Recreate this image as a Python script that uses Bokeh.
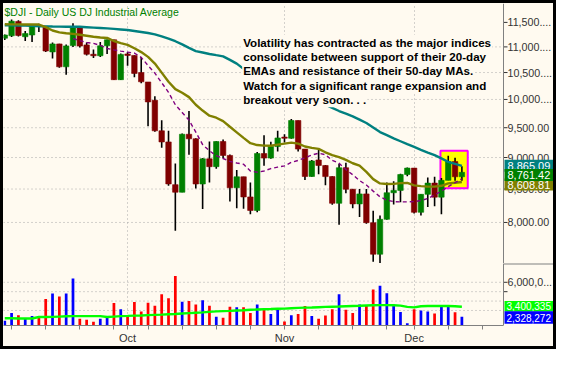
import math
from bokeh.plotting import figure
from bokeh.models import Range1d, FixedTicker, Label, ColumnDataSource, Span
from bokeh.core.properties import value
from bokeh.layouts import column
from bokeh.embed import file_html
from bokeh.resources import INLINE

# ---------------- data (trading days, Sep 5 2008 .. Dec 10 2008) ----------------
dates = ["09-05", "09-08", "09-09", "09-10", "09-11", "09-12", "09-15", "09-16", "09-17", "09-18",
         "09-19", "09-22", "09-23", "09-24", "09-25", "09-26", "09-29", "09-30", "10-01", "10-02",
         "10-03", "10-06", "10-07", "10-08", "10-09", "10-10", "10-13", "10-14", "10-15", "10-16",
         "10-17", "10-20", "10-21", "10-22", "10-23", "10-24", "10-27", "10-28", "10-29", "10-30",
         "10-31", "11-03", "11-04", "11-05", "11-06", "11-07", "11-10", "11-11", "11-12", "11-13",
         "11-14", "11-17", "11-18", "11-19", "11-20", "11-21", "11-24", "11-25", "11-26", "11-28",
         "12-01", "12-02", "12-03", "12-04", "12-05", "12-08", "12-09", "12-10"]

opens = [11175, 11224, 11520, 11205, 11240, 11434, 11420, 10900, 11059, 10610,
         11027, 11388, 11040, 10854, 10825, 11022, 11143, 10365, 10860, 10831,
         10500, 10322, 9985, 9447, 9258, 8568, 8451, 9388, 9311, 8578,
         8979, 8852, 9265, 9034, 8519, 8691, 8379, 8176, 9065, 8991,
         9181, 9340, 9320, 9625, 9139, 8696, 8960, 8871, 8694, 8283,
         8835, 8497, 8274, 8425, 7997, 7552, 8046, 8443, 8479, 8727,
         8829, 8149, 8419, 8592, 8376, 8635, 8934, 8691]
highs = [11250, 11560, 11545, 11320, 11460, 11470, 11425, 11090, 11065, 11050,
         11480, 11390, 11090, 10950, 11100, 11150, 11145, 10870, 10900, 10835,
         10800, 10322, 10060, 9630, 9448, 8901, 9400, 9794, 9320, 8994,
         9265, 9270, 9300, 9050, 8800, 8691, 8600, 9090, 9370, 9260,
         9450, 9390, 9653, 9625, 9140, 8960, 9130, 8880, 8700, 8900,
         8917, 8500, 8500, 8500, 8170, 8100, 8600, 8620, 8740, 8840,
         8829, 8420, 8680, 8690, 8670, 9030, 8995, 8857]
lows = [11140, 11200, 11210, 11120, 11100, 11300, 10900, 10770, 10590, 10460,
        11000, 10990, 10830, 10780, 10800, 10860, 10360, 10360, 10630, 10410,
        10300, 9525, 9430, 9160, 8550, 7882, 8450, 9045, 8510, 8197,
        8603, 8820, 8990, 8310, 8210, 8200, 8120, 8150, 8865, 8980,
        9100, 9250, 9310, 9100, 8640, 8690, 8730, 8560, 8260, 7965,
        8435, 8210, 8080, 7980, 7450, 7430, 8040, 8265, 8300, 8700,
        8130, 8100, 8227, 8240, 8120, 8635, 8630, 8629]
closes = [11240, 11525, 11231, 11269, 11434, 11422, 10918, 11059, 10610, 11020,
          11388, 11016, 10854, 10825, 11022, 11143, 10365, 10851, 10831, 10483,
          10325, 9955, 9447, 9258, 8579, 8451, 9388, 9311, 8578, 8979,
          8852, 9265, 9034, 8519, 8691, 8379, 8176, 9065, 8991, 9181,
          9325, 9320, 9625, 9139, 8696, 8944, 8871, 8694, 8283, 8835,
          8497, 8274, 8425, 7997, 7552, 8046, 8443, 8479, 8727, 8829,
          8149, 8419, 8592, 8376, 8635, 8934, 8691, 8761.42]

# volume, millions of shares
volumes = [1.9, 2.73, 2.5, 2.13, 2.4, 2.3, 4.23, 4.8, 4.5, 4.8,
           6.4, 2.13, 2.0, 1.8, 2.13, 2.33, 3.8, 3.13, 2.5, 3.9,
           2.9, 3.83, 3.5, 4.73, 4.3, 6.67, 3.93, 4.0, 3.63, 4.1,
           3.5, 2.33, 2.23, 3.4, 3.33, 3.33, 2.73, 3.63, 3.13, 2.63,
           3.07, 1.83, 2.5, 2.63, 3.47, 2.4, 2.13, 2.47, 3.13, 4.73,
           3.07, 2.73, 3.63, 3.47, 5.23, 5.63, 4.83, 3.63, 2.83, 1.63,
           3.13, 3.0, 2.9, 2.67, 3.4, 3.5, 2.8, 2.328272]

ma50 = [11441, 11438, 11435, 11432, 11428, 11421, 11418, 11415, 11413, 11410,
        11409, 11408, 11400, 11392, 11384, 11376, 11365, 11354, 11342, 11322,
        11302, 11280, 11254, 11210, 11165, 11114, 11050, 10980, 10916, 10888,
        10860, 10836, 10813, 10745, 10672, 10571, 10510, 10452, 10390, 10326,
        10268, 10210, 10152, 10094, 10040, 9989, 9946, 9904, 9848, 9792,
        9745, 9698, 9640, 9581, 9503, 9425, 9372, 9319, 9270, 9221,
        9174, 9126, 9082, 9039, 8985, 8930, 8898, 8865.09]

ema20 = [11461, 11459, 11458, 11457, 11456, 11455, 11401, 11332, 11293, 11277,
         11263, 11244, 11225, 11205, 11190, 11180, 11118, 11075, 11041, 10974,
         10897, 10803, 10672, 10498, 10326, 10188, 10121, 10042, 9904, 9800,
         9710, 9674, 9615, 9516, 9421, 9327, 9237, 9206, 9197, 9194,
         9214, 9230, 9246, 9230, 9182, 9158, 9142, 9086, 9040, 9008,
         8961, 8907, 8868, 8768, 8654, 8587, 8577, 8580, 8591, 8594,
         8557, 8545, 8537, 8537, 8550, 8587, 8598, 8608.81]

short_ma_start = 10
short_ma = [11166, 11127, 11089, 11070, 11031, 10968, 10941, 10916, 10897, 10878,
            10793, 10635, 10489, 10308, 10130, 9904, 9767, 9632, 9425, 9214,
            9110, 9031, 8984, 8937, 8911, 8891, 8783, 8763, 8783, 8822,
            8845, 8865, 8922, 8953, 8995, 9040, 9071, 9047, 8953, 8907,
            8806, 8723, 8632, 8562, 8468, 8381, 8330, 8308, 8304, 8304,
            8308, 8325, 8356, 8410, 8468, 8538, 8598, 8660]

vol_ma = [2.17, 2.17, 2.15, 2.15, 2.15, 2.3, 2.3, 2.32, 2.35, 2.38,
          2.4, 2.4, 2.4, 2.4, 2.4, 2.3, 2.35, 2.4, 2.42, 2.45,
          2.47, 2.5, 2.53, 2.56, 2.6, 2.63, 2.68, 2.72, 2.76, 2.8,
          2.85, 2.9, 2.93, 2.96, 3.0, 3.03, 3.07, 3.1, 3.13, 3.15,
          3.18, 3.2, 3.24, 3.28, 3.3, 3.32, 3.35, 3.38, 3.4, 3.42,
          3.45, 3.48, 3.5, 3.53, 3.55, 3.57, 3.57, 3.55, 3.52, 3.38,
          3.33, 3.45, 3.47, 3.47, 3.47, 3.47, 3.45, 3.400335]

price_ticks = [8000, 8500, 9000, 9500, 10000, 10500, 11000, 11500]
price_tick_labels = ["8,000.00", "8,500.00", "9,000.00", "9,500.00",
                     "10,000....", "10,500....", "11,000....", "11,500...."]
price_grid_ticks = [8000, 8500, 9000, 9500, 10000, 10500, 11000]
vol_ticks = [3e6, 4e6, 5e6, 6e6]
vol_tick_labels = ["", "", "", "6,000,0..."]
week_ticks = [1, 6, 11, 16, 18, 21, 26, 31, 36, 41, 46, 51, 56, 60, 65, 70]
month_ticks = [18, 41, 60]
month_labels = ["Oct", "Nov", "Dec"]

title_text = "$DJI - Daily  US  DJ Industrial Average"
note_lines = ["Volatility has contracted as the major indices",
              "consolidate between support of their 20-day",
              "EMAs and resistance of their 50-day MAs.",
              "Watch for a significant range expansion and",
              "breakout very soon. . ."]
last_ma50, last_close, last_ema20 = 8865.09, 8761.42, 8608.81
last_vol_ma, last_vol = 3400335, 2328272
highlight_days = (63.86, 67.86)
highlight_prices = (8513, 9110)

# ---------------- layout / styling ----------------
BG = "#FFFAF0"
FONT = "Liberation Sans"
LABEL_COLOR = "#333333"
AXIS_COLOR = "#808080"
GRID_COLOR = "#a8a8a8"

W, PLOT_W = 550, 500           # figure width, width of the data area
PH, VH, XAX_H = 260, 83, 19    # price height, volume figure height, date-axis height
x_lo, x_hi = -0.186, 73.1      # visible day range of the data area
p_lo, p_hi = 7426, 11901       # price range (log)
v_lo, v_hi = 1.4e6, 8.0e6      # volume range

PX = PLOT_W / (x_hi - x_lo)    # pixels per day
x_end = x_lo + W / PX          # frame extends under the value-axis area
axis_x = x_hi
LN_PX = PH / math.log(p_hi / p_lo)
VPX = (VH - XAX_H) / (v_hi - v_lo)

def pshift(p, px):
    return p * math.exp(px / LN_PX)

def vshift(v, px):
    return v + px / VPX

n = len(closes)
idx = list(range(n))
xr = Range1d(x_lo, x_end)

common = dict(width=W, x_range=xr, output_backend="svg", toolbar_location=None,
              min_border_left=0, min_border_right=0, min_border_top=0,
              background_fill_color=BG, border_fill_color=BG, outline_line_color=None)

price = figure(height=PH, y_range=Range1d(p_lo, p_hi), y_axis_type="log",
               y_axis_location=None, x_axis_location=None, min_border_bottom=0, **common)
vol = figure(height=VH, y_range=Range1d(v_lo, v_hi), y_axis_location=None,
             min_border_bottom=XAX_H, **common)

for fig in (price, vol):
    fig.xgrid.ticker = FixedTicker(ticks=month_ticks)
    fig.xgrid.grid_line_color = GRID_COLOR
    fig.xgrid.grid_line_dash = "1 3"
    fig.ygrid.visible = False
    fig.add_layout(Span(location=axis_x, dimension="height", line_color=AXIS_COLOR, line_width=1))

# date axis
xa = vol.xaxis[0]
xa.ticker = FixedTicker(ticks=week_ticks)
overrides = {t: "" for t in week_ticks}
overrides.update({t: s for t, s in zip(month_ticks, month_labels)})
xa.major_label_overrides = overrides
xa.bounds = (x_lo, x_hi)
xa.axis_line_color = AXIS_COLOR
xa.major_tick_line_color = AXIS_COLOR
xa.major_tick_out = 4
xa.major_tick_in = 0
xa.minor_tick_line_color = None
xa.major_label_text_font = FONT
xa.major_label_text_font_size = "11px"
xa.major_label_text_color = LABEL_COLOR
xa.major_label_standoff = 2

# horizontal dotted grid (stops at the value axis)
price.segment(x0=x_lo, x1=axis_x, y0=price_grid_ticks, y1=price_grid_ticks,
              line_color=GRID_COLOR, line_dash="1 3", line_width=1)
vol.segment(x0=x_lo, x1=axis_x, y0=vol_ticks, y1=vol_ticks,
            line_color=GRID_COLOR, line_dash="1 3", line_width=1)

# value axes: ticks + labels
tick_len = 4 / PX
price.segment(x0=axis_x, x1=axis_x + tick_len, y0=price_ticks, y1=price_ticks,
              line_color=LABEL_COLOR, line_width=1)
price.text(x=[axis_x] * len(price_ticks), y=price_ticks, text=price_tick_labels,
           x_offset=4, text_baseline="middle", text_color=LABEL_COLOR,
           text_font=value(FONT), text_font_size="10.7px")
vol.segment(x0=axis_x, x1=axis_x + tick_len, y0=vol_ticks[-2:], y1=vol_ticks[-2:],
            line_color=LABEL_COLOR, line_width=1)
vol.text(x=[axis_x] * len(vol_ticks), y=vol_ticks, text=vol_tick_labels,
         x_offset=4, text_baseline="middle", text_color=LABEL_COLOR,
         text_font=value(FONT), text_font_size="10.7px")
# separator between panels in the axis column
vol.segment(x0=[axis_x], x1=[x_end], y0=[v_hi], y1=[v_hi], line_color=AXIS_COLOR, line_width=2)

# highlight box
price.quad(left=[highlight_days[0]], right=[highlight_days[1]],
           bottom=[highlight_prices[0]], top=[highlight_prices[1]],
           fill_color="#FFFF00", line_color="#FF00FF", line_width=2)

# candles
body_top = [max(o, c) for o, c in zip(opens, closes)]
body_bot = [min(o, c) for o, c in zip(opens, closes)]
body_col = ["#008000" if c >= o else "#800000" for o, c in zip(opens, closes)]
csrc = ColumnDataSource(dict(x=idx, h=highs, l=lows, top=body_top, bot=body_bot, color=body_col))
price.segment(x0="x", y0="l", x1="x", y1="h", source=csrc, line_color="black", line_width=1.6)
price.vbar(x="x", width=0.8, top="top", bottom="bot", source=csrc,
           fill_color="color", line_color="color", line_width=0.6)

# moving averages
price.line(idx, ma50, line_color="#008080", line_width=2.4)
price.line(idx, ema20, line_color="#808000", line_width=2.4)
price.line(list(range(short_ma_start, short_ma_start + len(short_ma))), short_ma,
           line_color="#800080", line_width=1.4, line_dash="4 3")

# volume
prev = [closes[0] - 1] + closes[:-1]
vcol = ["#0000FF" if c >= p else "#FF0000" for c, p in zip(closes, prev)]
vsrc = ColumnDataSource(dict(x=idx, v=[v * 1e6 for v in volumes], color=vcol))
vol.vbar(x="x", width=0.4, top="v", bottom=0, source=vsrc, fill_color="color", line_color=None)
vol.line(idx, [v * 1e6 for v in vol_ma], line_color="#00FF00", line_width=2.4)

# last-value boxes on the value axes
def price_box(val, shift_px, bg):
    c = pshift(val, shift_px)
    price.quad(left=[axis_x + 1 / PX], right=[x_end], bottom=[pshift(c, -6)], top=[pshift(c, 6)],
               fill_color=bg, line_color=None)
    price.text(x=[axis_x], y=[c], text=[f"{val:,.2f}"], x_offset=4, text_baseline="middle",
               text_color="white", text_font=value(FONT), text_font_size="11px")

def vol_box(val, shift_px, half_px, bg):
    c = vshift(val, shift_px)
    vol.quad(left=[axis_x + 1 / PX], right=[x_end], bottom=[vshift(c, -half_px)],
             top=[vshift(c, half_px)], fill_color=bg, line_color=None)
    vol.text(x=[axis_x], y=[c], text=[f"{val:,}"], x_offset=3, text_baseline="middle",
             text_color="white", text_font=value(FONT), text_font_size="10px")

price_box(last_ma50, 0, "#008080")
price_box(last_ema20, -2.6, "#808000")
price_box(last_close, -2.6, "#008000")
vol_box(last_vol_ma, 0.5, 5.5, "#00FF00")
vol_box(last_vol, -0.8, 6.5, "#0000FF")

# texts
price.add_layout(Label(x=x_lo, y=p_hi, x_offset=1, y_offset=-2, text=title_text,
                       text_baseline="top", text_color="#008000", text_font=FONT,
                       text_font_size="10.5px"))
note_prices = [11094, 10809, 10530, 10259, 9995]
for line, yp in zip(note_lines, note_prices):
    price.add_layout(Label(x=34.8, y=yp, text=line, text_baseline="alphabetic",
                           text_color="black", text_font=FONT, text_font_style="bold",
                           text_font_size="11.6px", background_fill_color=BG, padding=1))

layout = column(price, vol, spacing=0, width=W + 6, height=PH + VH + 6,
                styles={"background-color": BG, "border": "3px solid black"})

open("out.html", "w").write(file_html(layout, INLINE))
